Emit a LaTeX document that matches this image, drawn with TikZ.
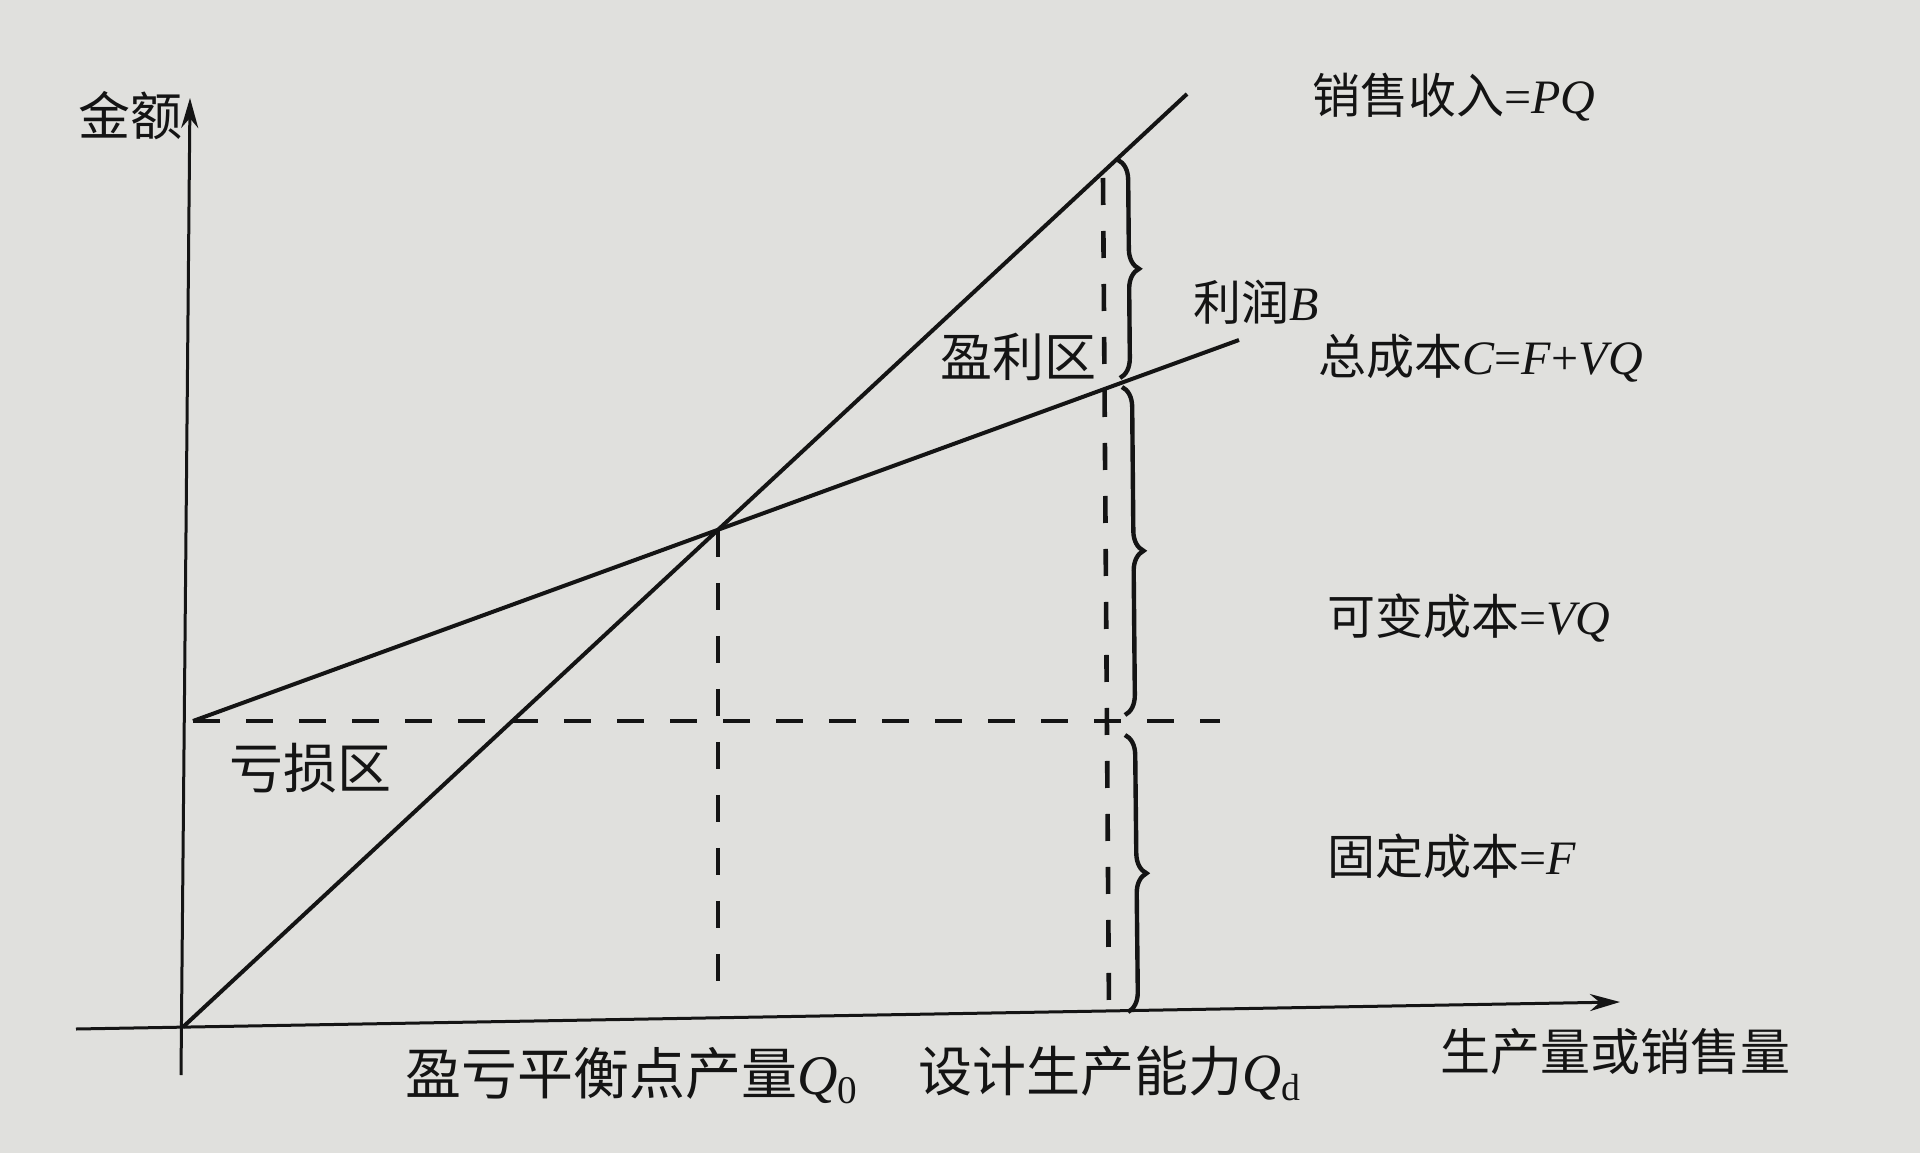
\documentclass[tikz,border=0pt]{standalone}
\usepackage{fontspec}
\setmainfont{Liberation Serif}
\newfontfamily\cjk{Noto Sans CJK SC}
\usetikzlibrary{decorations.pathreplacing,arrows.meta}
\definecolor{paper}{RGB}{224,224,221}
\definecolor{ink}{RGB}{20,20,20}
\begin{document}
\begin{tikzpicture}[x=0.5pt,y=0.5pt,
  axis/.style={line width=1.5pt, draw=ink},
  curve/.style={line width=2pt, draw=ink},
  dashline/.style={line width=2.3pt, draw=ink, dash pattern=on 13.5pt off 13pt},
  bracex/.style={line width=2.2pt, draw=ink, decorate, decoration={brace, amplitude=10pt}},
  lab/.style={inner sep=0pt, text=ink},
  fr/.style={font=\fontsize{24}{28}\selectfont},
  fb/.style={font=\fontsize{28}{32}\selectfont},
  fm/.style={font=\fontsize{26}{30}\selectfont},
  tip/.style={-{Stealth[length=15pt,width=8.5pt]}}
]
\fill[paper] (0,0) rectangle (1920,1153);
\useasboundingbox (0,0) rectangle (1920,1153);
% key points
\coordinate (A0) at (76,124);
\coordinate (A1) at (1620,151);
\coordinate (B0) at (181,78);
\coordinate (B1) at (190,1055);
\coordinate (O)  at (183,126);
\coordinate (S1) at (1187,1059);
\coordinate (C0) at (193,432);
\coordinate (C1) at (1239,813);
\coordinate (F1) at (1220,432);
\coordinate (BE) at (intersection of O--S1 and C0--C1);
\coordinate (Q0B) at (BE |- 0,148);
\coordinate (QdT) at (1103,975);
\coordinate (QdB) at (1109,141);
% braces end points
\coordinate (PbT) at (1118,993);
\coordinate (PbB) at (1120,775);
\coordinate (VbT) at (1122,766);
\coordinate (VbB) at (1125,438);
\coordinate (FbT) at (1125,418);
\coordinate (FbB) at (1128,141);
% axes
\draw[axis,tip] (A0) -- (A1);
\draw[axis,tip] (B0) -- (B1);
% revenue and cost lines
\draw[curve] (O) -- (S1);
\draw[curve] (C0) -- (C1);
% dashed guides
\draw[dashline] (C0) -- (F1);
\draw[dashline] (BE) -- (Q0B);
\draw[dashline] (QdT) -- (QdB);
% braces
\draw[bracex] (PbT) -- (PbB);
\draw[bracex] (VbT) -- (VbB);
\draw[bracex] (FbT) -- (FbB);
% labels
\node[lab,fm] (yl) at (130,1037) {\cjk 金额};
\node[lab,fr,anchor=west] (rev) at (1312,1056) {{\cjk 销售收入}=\textit{PQ}};
\node[lab,fr,anchor=west] (prof) at (1193,851) {{\cjk 利润}\textit{B}};
\node[lab,fr,anchor=west] (tc) at (1318,795) {{\cjk 总成本}\textit{C}=\textit{F}+\textit{VQ}};
\node[lab,fm] (pz) at (1018,796) {\cjk 盈利区};
\node[lab,fr,anchor=west] (vc) at (1327,535) {{\cjk 可变成本}=\textit{VQ}};
\node[lab,font=\fontsize{27}{31}\selectfont] (lz) at (310,385) {\cjk 亏损区};
\node[lab,fr,anchor=west] (fc) at (1327,297) {{\cjk 固定成本}=\textit{F}};
\node[lab,fb] (q0) at (632,77) {{\cjk 盈亏平衡点产量}\textit{Q}\textsubscript{0}};
\node[lab,font=\fontsize{27}{31}\selectfont] (qd) at (1110,80) {{\cjk 设计生产能力}\textit{Q}\textsubscript{d}};
\node[lab,font=\fontsize{25}{29}\selectfont] (xl) at (1615,101) {\cjk 生产量或销售量};
\end{tikzpicture}
\end{document}
